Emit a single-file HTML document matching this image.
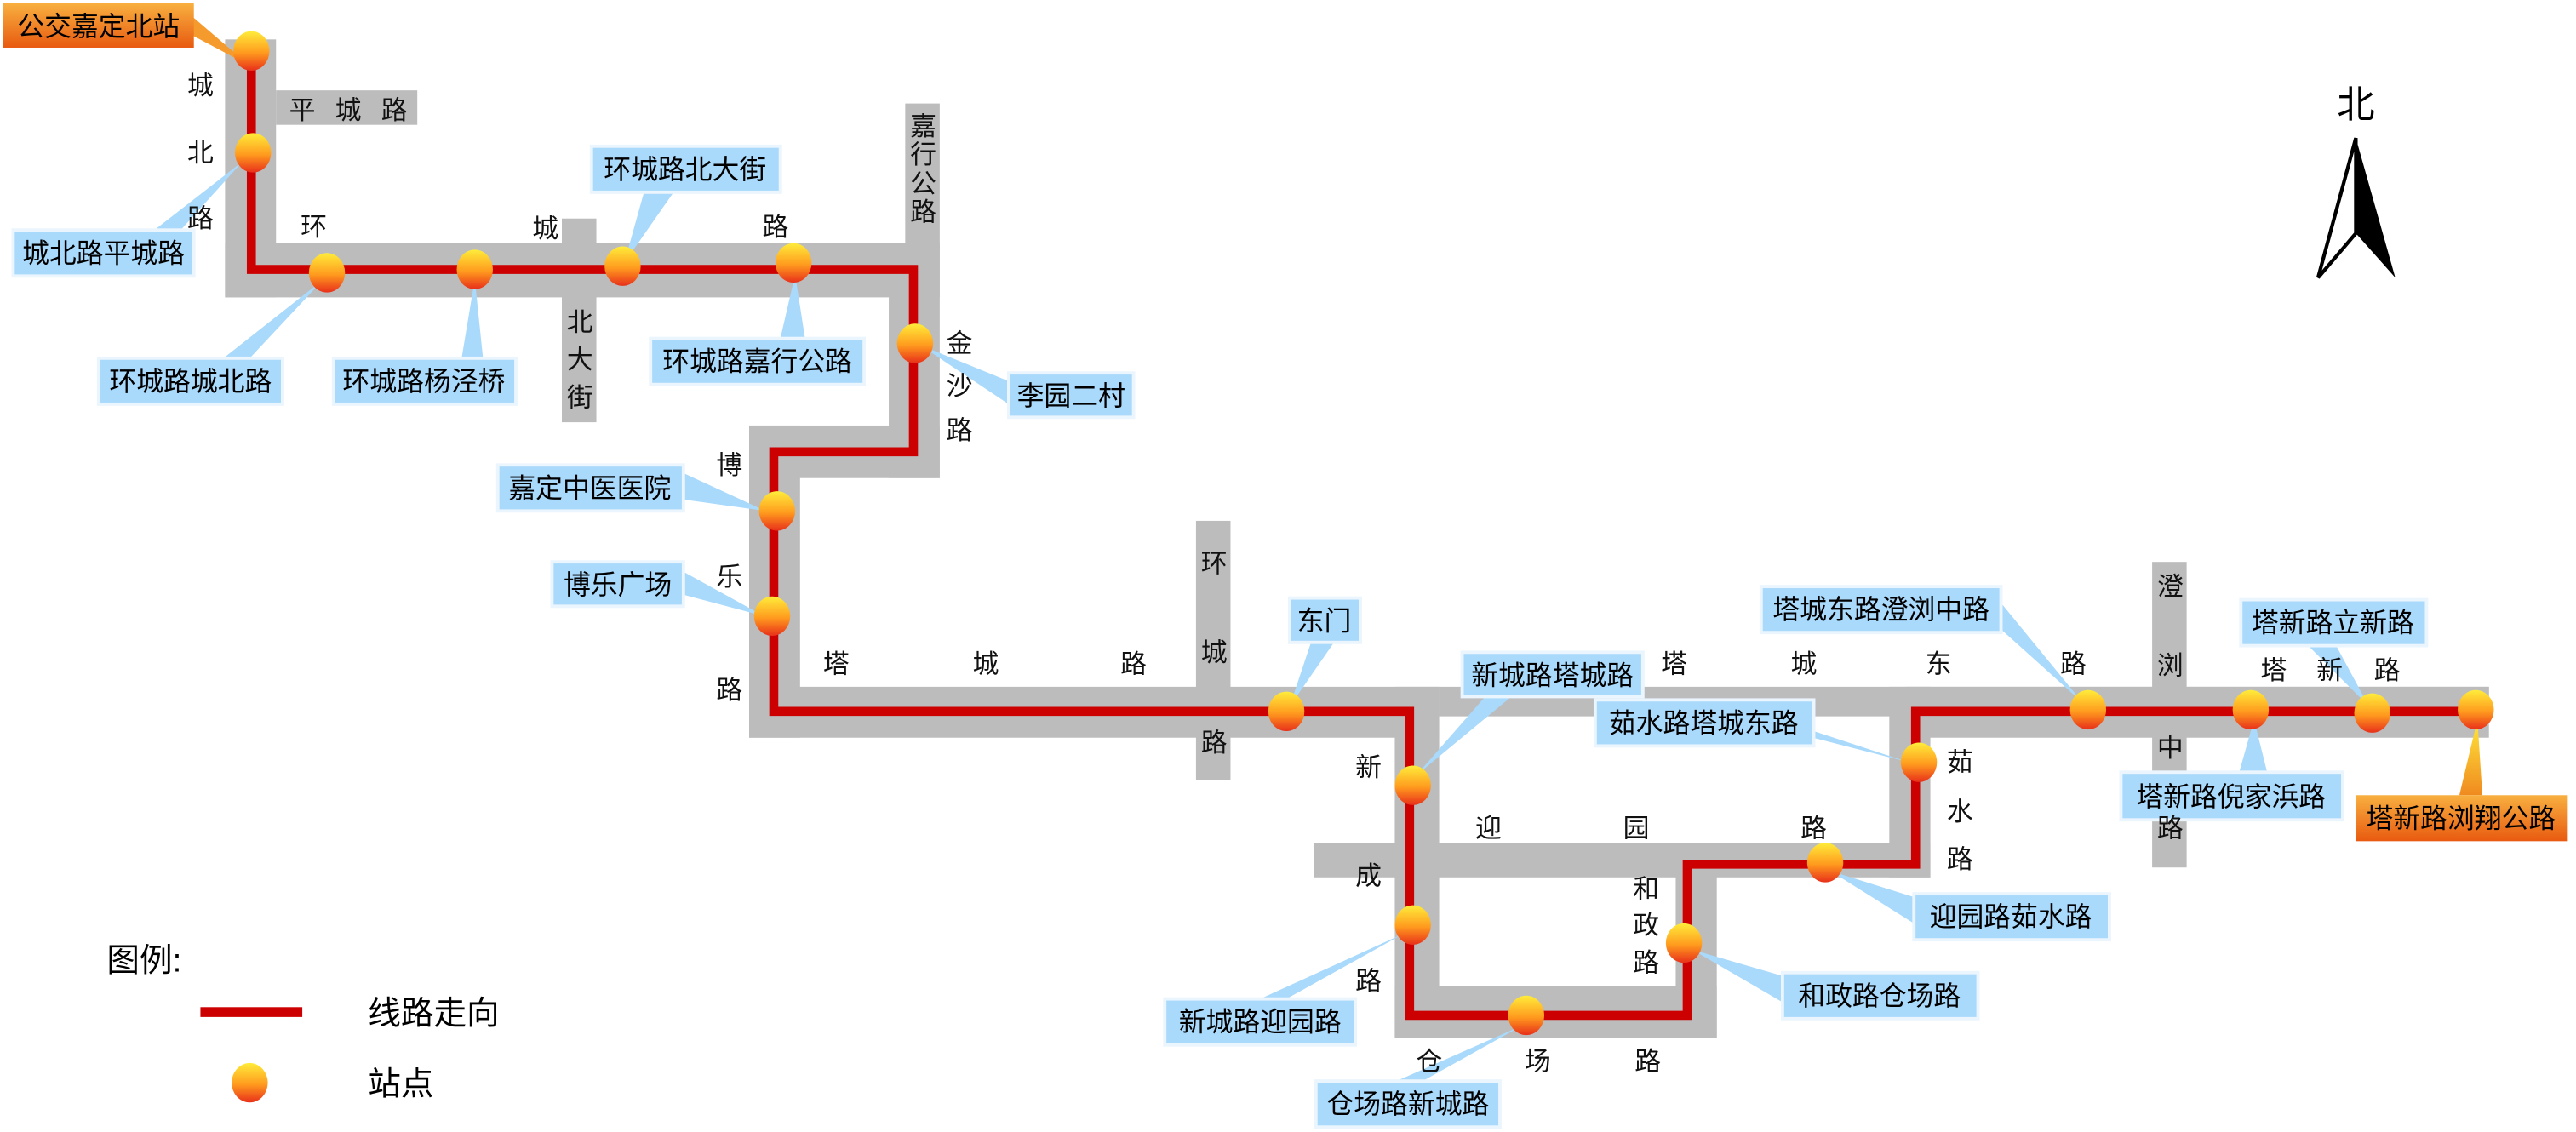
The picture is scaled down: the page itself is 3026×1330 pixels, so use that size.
<!DOCTYPE html>
<html><head><meta charset="utf-8"><style>
html,body{margin:0;padding:0;background:#fff;}
svg{display:block;}
text{font-family:"Liberation Sans","Noto Sans CJK SC",sans-serif;}
</style></head><body>
<svg width="3026" height="1330" viewBox="0 0 1568 689" preserveAspectRatio="none" xmlns="http://www.w3.org/2000/svg">
<defs>
<linearGradient id="st" x1="0" y1="0" x2="0" y2="1">
<stop offset="0" stop-color="#ffec3a"/><stop offset="0.55" stop-color="#ff9a1e"/><stop offset="1" stop-color="#e8301a"/>
</linearGradient>
<linearGradient id="or" x1="0" y1="0" x2="0" y2="1">
<stop offset="0" stop-color="#f8b040"/><stop offset="1" stop-color="#e85a10"/>
</linearGradient>
<linearGradient id="ot" x1="0" y1="0" x2="0" y2="1">
<stop offset="0" stop-color="#ffe83a"/><stop offset="1" stop-color="#f08a20"/>
</linearGradient>
</defs>
<g fill="#bcbcbc">
<rect x="137" y="24" width="31" height="157"/>
<rect x="168" y="55" width="86" height="21"/>
<rect x="137" y="148" width="435" height="33"/>
<rect x="342" y="133" width="21" height="124"/>
<rect x="551" y="63" width="21" height="90"/>
<rect x="541" y="148" width="31" height="143"/>
<rect x="456" y="259" width="116" height="32"/>
<rect x="456" y="259" width="31" height="190"/>
<rect x="456" y="418" width="420" height="31"/>
<rect x="728" y="317" width="21" height="158"/>
<rect x="849" y="418" width="27" height="214"/>
<rect x="876" y="418" width="639" height="18"/>
<rect x="1160" y="418" width="355" height="31"/>
<rect x="849" y="600" width="196" height="32"/>
<rect x="800" y="513" width="375" height="21"/>
<rect x="1020" y="513" width="25" height="119"/>
<rect x="1150" y="418" width="25" height="116"/>
<rect x="1310" y="342" width="21" height="186"/>
</g>
<polyline fill="none" stroke="#cc0000" stroke-width="5.5" stroke-linejoin="miter" points="153,28 153,164 556,164 556,275 471,275 471,433 858,433 858,618 1027,618 1027,526 1166,526 1166,433 1507,433"/>
<g fill="#a9d9fb">
<polygon points="94,140 110,140 148,98"/>
<polygon points="136,218 152,218 197,170"/>
<polygon points="281,218 294,218 289,170"/>
<polygon points="392,117 410,117 380,160"/>
<polygon points="475,206 490,206 484,167"/>
<polygon points="614,232 614,246 560,210"/>
<polygon points="416,288 416,304 466,311"/>
<polygon points="416,348 416,362 465,375"/>
<polygon points="798,391 812,391 785,430"/>
<polygon points="904,424 920,424 862,472"/>
<polygon points="1088,445 1104,445 1162,464"/>
<polygon points="1218,367 1218,383 1268,428"/>
<polygon points="1405,393 1422,393 1442,430"/>
<polygon points="1363,470 1380,470 1372,438"/>
<polygon points="1165,546 1165,562 1114,530"/>
<polygon points="1085,594 1085,610 1030,578"/>
<polygon points="767,608 783,608 855,568"/>
<polygon points="850,658 866,658 927,624"/>
</g>
<polygon fill="url(#ot)" points="1497,484 1511,484 1508,438"/>
<polygon fill="#f59a2c" points="110,4 118,22 152,40"/>
<g fill="url(#st)">
<ellipse cx="153" cy="31" rx="11" ry="12"/>
<ellipse cx="154" cy="93" rx="11" ry="12"/>
<ellipse cx="199" cy="166" rx="11" ry="12"/>
<ellipse cx="289" cy="164" rx="11" ry="12"/>
<ellipse cx="379" cy="162" rx="11" ry="12"/>
<ellipse cx="483" cy="160" rx="11" ry="12"/>
<ellipse cx="557" cy="209" rx="11" ry="12"/>
<ellipse cx="473" cy="311" rx="11" ry="12"/>
<ellipse cx="470" cy="375" rx="11" ry="12"/>
<ellipse cx="783" cy="433" rx="11" ry="12"/>
<ellipse cx="860" cy="478" rx="11" ry="12"/>
<ellipse cx="860" cy="563" rx="11" ry="12"/>
<ellipse cx="929" cy="618" rx="11" ry="12"/>
<ellipse cx="1025" cy="574" rx="11" ry="12"/>
<ellipse cx="1111" cy="525" rx="11" ry="12"/>
<ellipse cx="1168" cy="464" rx="11" ry="12"/>
<ellipse cx="1271" cy="432" rx="11" ry="12"/>
<ellipse cx="1370" cy="432" rx="11" ry="12"/>
<ellipse cx="1444" cy="434" rx="11" ry="12"/>
<ellipse cx="1507" cy="432" rx="11" ry="12"/>
<ellipse cx="152" cy="659" rx="11" ry="12"/>
</g>
<g fill="#a9d9fb" stroke="#eaf5fd" stroke-width="2">
<rect x="8" y="140" width="110" height="28"/>
<rect x="60" y="218" width="112" height="28"/>
<rect x="203" y="218" width="111" height="28"/>
<rect x="360" y="89" width="115" height="28"/>
<rect x="396" y="206" width="130" height="28"/>
<rect x="614" y="227" width="76" height="27"/>
<rect x="303" y="283" width="113" height="28"/>
<rect x="336" y="342" width="80" height="27"/>
<rect x="785" y="364" width="43" height="27"/>
<rect x="890" y="397" width="110" height="27"/>
<rect x="971" y="426" width="133" height="28"/>
<rect x="1072" y="357" width="146" height="28"/>
<rect x="1364" y="365" width="113" height="28"/>
<rect x="1291" y="470" width="135" height="29"/>
<rect x="1165" y="544" width="119" height="28"/>
<rect x="1085" y="592" width="119" height="28"/>
<rect x="709" y="608" width="116" height="28"/>
<rect x="801" y="658" width="112" height="28"/>
</g>
<rect x="2" y="2" width="116" height="27" fill="url(#or)"/>
<rect x="1434" y="484" width="129" height="28" fill="url(#or)"/>
<g font-size="16.5" fill="#000" text-anchor="middle" dominant-baseline="central">
<text x="60" y="16">公交嘉定北站</text>
<text x="63" y="154">城北路平城路</text>
<text x="116" y="232">环城路城北路</text>
<text x="258" y="232">环城路杨泾桥</text>
<text x="417" y="103">环城路北大街</text>
<text x="461" y="220">环城路嘉行公路</text>
<text x="652" y="241">李园二村</text>
<text x="359" y="297">嘉定中医医院</text>
<text x="376" y="356">博乐广场</text>
<text x="806" y="378">东门</text>
<text x="945" y="411">新城路塔城路</text>
<text x="1037" y="440">茹水路塔城东路</text>
<text x="1145" y="371">塔城东路澄浏中路</text>
<text x="1420" y="379">塔新路立新路</text>
<text x="1358" y="485">塔新路倪家浜路</text>
<text x="1498" y="498">塔新路浏翔公路</text>
<text x="1224" y="558">迎园路茹水路</text>
<text x="1144" y="606">和政路仓场路</text>
<text x="767" y="622">新城路迎园路</text>
<text x="857" y="672">仓场路新城路</text>
</g>
<g font-size="16" fill="#111" text-anchor="middle" dominant-baseline="central">
<text x="122" y="52">城</text><text x="122" y="93">北</text><text x="122" y="133">路</text>
<text x="184" y="67">平</text><text x="212" y="67">城</text><text x="240" y="67">路</text>
<text x="191" y="138">环</text><text x="332" y="139">城</text><text x="472" y="138">路</text>
<text x="353" y="196">北</text><text x="353" y="219">大</text><text x="353" y="242">街</text>
<text x="562" y="77">嘉</text><text x="562" y="94">行</text><text x="562" y="112">公</text><text x="562" y="129">路</text>
<text x="584" y="209">金</text><text x="584" y="235">沙</text><text x="584" y="262">路</text>
<text x="444" y="283">博</text><text x="444" y="351">乐</text><text x="444" y="420">路</text>
<text x="509" y="404">塔</text><text x="600" y="404">城</text><text x="690" y="404">路</text>
<text x="739" y="343">环</text><text x="739" y="397">城</text><text x="739" y="452">路</text>
<text x="833" y="467">新</text><text x="833" y="533">成</text><text x="833" y="597">路</text>
<text x="906" y="504">迎</text><text x="996" y="504">园</text><text x="1104" y="504">路</text>
<text x="870" y="646">仓</text><text x="936" y="646">场</text><text x="1003" y="646">路</text>
<text x="1002" y="541">和</text><text x="1002" y="563">政</text><text x="1002" y="586">路</text>
<text x="1193" y="464">茹</text><text x="1193" y="494">水</text><text x="1193" y="523">路</text>
<text x="1019" y="404">塔</text><text x="1098" y="404">城</text><text x="1180" y="404">东</text><text x="1262" y="404">路</text>
<text x="1321" y="357">澄</text><text x="1321" y="405">浏</text><text x="1321" y="455">中</text><text x="1321" y="504">路</text>
<text x="1384" y="408">塔</text><text x="1418" y="408">新</text><text x="1453" y="408">路</text>
</g>
<g font-size="20" fill="#000" dominant-baseline="central">
<text x="65" y="585">图例:</text>
<text x="224" y="617">线路走向</text>
<text x="224" y="660">站点</text>
</g>
<rect x="122" y="613" width="62" height="6" fill="#cc0000"/>
<text x="1434" y="64" font-size="23" text-anchor="middle" dominant-baseline="central">北</text>
<polygon points="1434,84 1458,169 1434,142" fill="#000"/>
<polygon points="1434,84 1411,169 1434,142" fill="none" stroke="#000" stroke-width="2.2" stroke-linejoin="miter"/>
</svg>
</body></html>
